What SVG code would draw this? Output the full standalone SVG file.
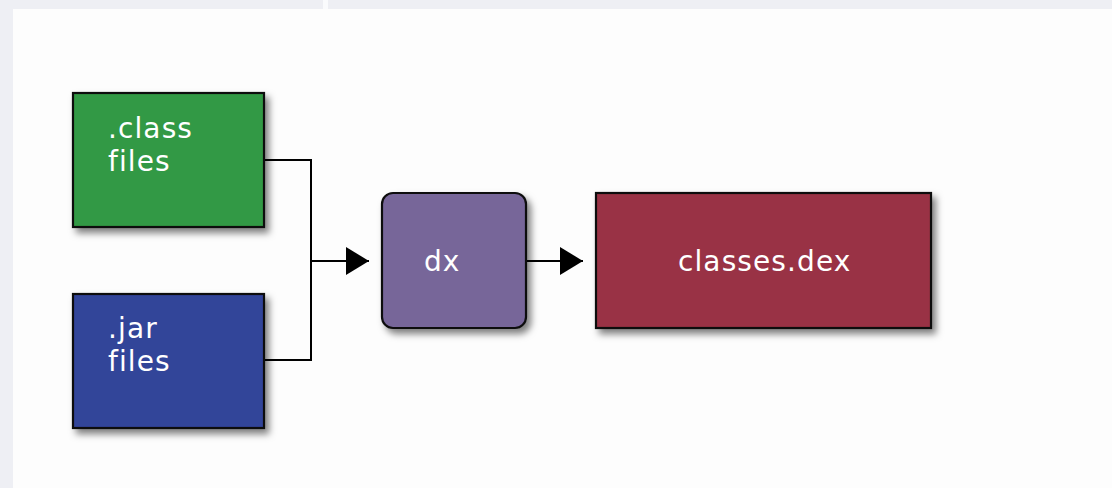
<svg xmlns="http://www.w3.org/2000/svg" width="1112" height="488" viewBox="0 0 1112 488">
  <defs>
    <filter id="sh" x="-10%" y="-10%" width="130%" height="130%">
      <feDropShadow dx="4" dy="5" stdDeviation="3.5" flood-color="#000" flood-opacity="0.5"/>
    </filter>
    <marker id="arr" markerWidth="23" markerHeight="28" refX="23" refY="14" orient="auto" markerUnits="userSpaceOnUse">
      <path d="M0,0 L23,14 L0,28 Z" fill="#000"/>
    </marker>
  </defs>
  <style>
    .box { stroke: #111; stroke-width: 2.2; filter: url(#sh); }
    .lbl { font-family: "DejaVu Sans", "Liberation Sans", sans-serif; font-size: 28px; letter-spacing: 1.1px; fill: #fff; }
    .conn { fill: none; stroke: #000; stroke-width: 2; }
  </style>
  <rect x="0" y="0" width="1112" height="488" fill="#eeeff4"/>
  <rect x="323" y="0" width="5" height="9" fill="#fafbfd"/>
  <rect x="13" y="9" width="1099" height="479" fill="#fdfdfd"/>

  <g id="connectors">
    <polyline class="conn" points="264,160 311,160 311,360 264,360"/>
    <line class="conn" x1="311" y1="261" x2="369" y2="261" marker-end="url(#arr)"/>
    <line class="conn" x1="526" y1="261" x2="583" y2="261" marker-end="url(#arr)"/>
  </g>

  <g id="class-files">
    <rect class="box" x="73" y="93" width="191" height="134" fill="#339944"/>
    <text class="lbl" x="108" y="138">.class</text>
    <text class="lbl" x="108" y="171">files</text>
  </g>

  <g id="jar-files">
    <rect class="box" x="73" y="294" width="191" height="134" fill="#334499"/>
    <text class="lbl" x="108" y="338">.jar</text>
    <text class="lbl" x="108" y="371">files</text>
  </g>

  <g id="dx">
    <rect class="box" x="382" y="193" width="144" height="135" rx="11" ry="11" fill="#776699"/>
    <text class="lbl" x="424" y="271">dx</text>
  </g>

  <g id="classes-dex">
    <rect class="box" x="596" y="193" width="335" height="135" fill="#993344"/>
    <text class="lbl" x="678" y="271">classes.dex</text>
  </g>
</svg>
